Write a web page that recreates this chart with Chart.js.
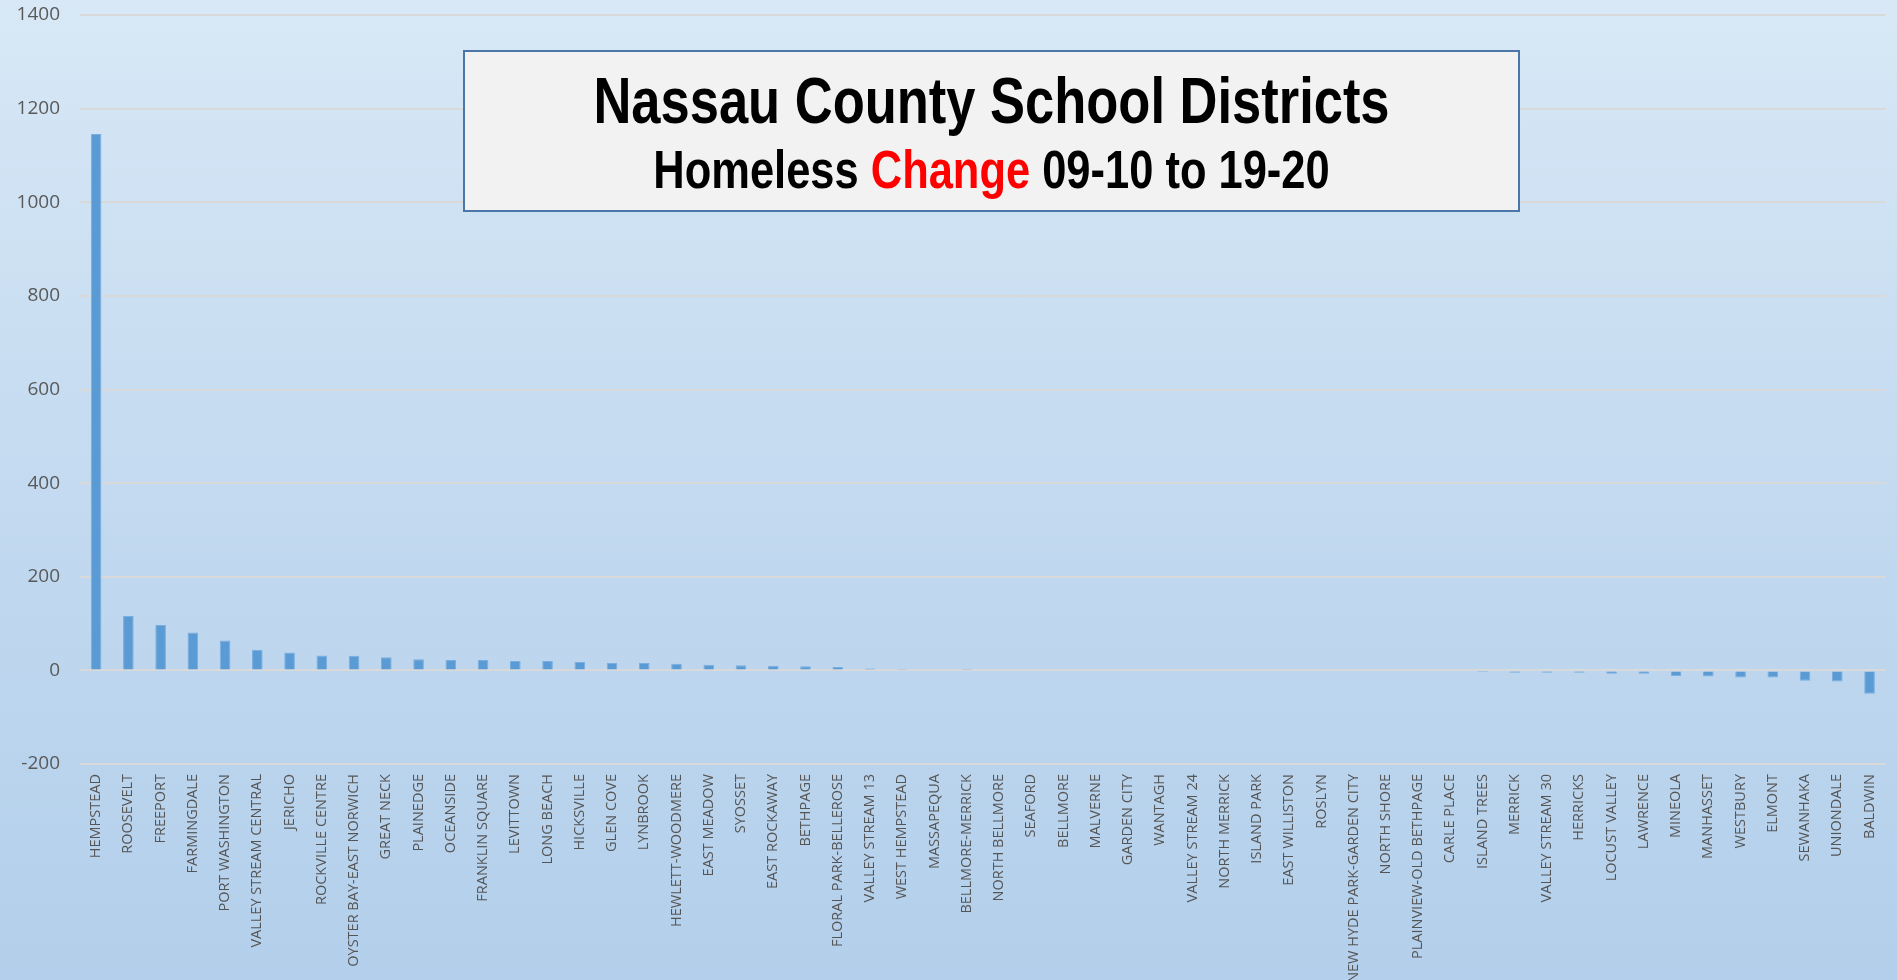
<!DOCTYPE html>
<html>
<head>
<meta charset="utf-8">
<script src="https://cdn.jsdelivr.net/npm/chart.js@4.4.1/dist/chart.umd.min.js"></script>
<style>
  html, body { margin: 0; padding: 0; overflow: hidden; }
  body { width: 1897px; height: 980px; background: linear-gradient(to bottom, #d8e8f6 0%, #c3daf0 50%, #b3cfeb 100%); position: relative; }
  #wrap { position: absolute; left: 0; top: 0; width: 1897px; height: 980px; }
  #titlebox {
    position: absolute; left: 463px; top: 50px; width: 1053px; height: 158px;
    background: #f2f2f2; border: 2px solid #4a76a8;
    font-family: "Liberation Sans", Arial, sans-serif; font-weight: bold; color: #000;
  }
  #titlebox div { position: absolute; left: 0; right: 0; text-align: center; white-space: nowrap; transform: scaleX(0.82); transform-origin: 50% 50%; }
  #t1 { top: 17px; font-size: 64px; line-height: 64px; }
  #t2 { top: 91px; font-size: 53px; line-height: 53px; }
  #t2 span { color: #ff0000; }
</style>
</head>
<body>
<div id="wrap"><canvas id="c" width="1897" height="980"></canvas></div>
<div id="titlebox">
  <div id="t1">Nassau County School Districts</div>
  <div id="t2">Homeless <span>Change</span> 09-10 to 19-20</div>
</div>
<script>
const districts = [
  "HEMPSTEAD","ROOSEVELT","FREEPORT","FARMINGDALE","PORT WASHINGTON","VALLEY STREAM CENTRAL",
  "JERICHO","ROCKVILLE CENTRE","OYSTER BAY-EAST NORWICH","GREAT NECK","PLAINEDGE","OCEANSIDE",
  "FRANKLIN SQUARE","LEVITTOWN","LONG BEACH","HICKSVILLE","GLEN COVE","LYNBROOK","HEWLETT-WOODMERE",
  "EAST MEADOW","SYOSSET","EAST ROCKAWAY","BETHPAGE","FLORAL PARK-BELLEROSE","VALLEY STREAM 13",
  "WEST HEMPSTEAD","MASSAPEQUA","BELLMORE-MERRICK","NORTH BELLMORE","SEAFORD","BELLMORE","MALVERNE",
  "GARDEN CITY","WANTAGH","VALLEY STREAM 24","NORTH MERRICK","ISLAND PARK","EAST WILLISTON","ROSLYN",
  "NEW HYDE PARK-GARDEN CITY","NORTH SHORE","PLAINVIEW-OLD BETHPAGE","CARLE PLACE","ISLAND TREES",
  "MERRICK","VALLEY STREAM 30","HERRICKS","LOCUST VALLEY","LAWRENCE","MINEOLA","MANHASSET","WESTBURY",
  "ELMONT","SEWANHAKA","UNIONDALE","BALDWIN"
];
const homelessChange = [
  1146, 116, 97, 81, 64, 44,
  38, 32, 31, 28, 24, 22,
  22, 20, 20, 18, 16, 16, 14,
  12, 11, 10, 9, 7, 4,
  3, 2, 1, 0, 0, 0, 0,
  0, 0, 0, 0, 0, 0, 0,
  0, 0, 0, 0, -1,
  -5, -5, -5, -7, -7, -12, -13, -15,
  -15, -22, -24, -50
];
const yMin = -200, yMax = 1400, yStep = 200;

new Chart(document.getElementById('c'), {
  type: 'bar',
  data: {
    labels: districts,
    datasets: [{
      data: homelessChange,
      backgroundColor: '#5b9bd5',
      borderColor: '#79aedf',
      borderWidth: 1,
      categoryPercentage: 1.0,
      barPercentage: 0.33
    }]
  },
  options: {
    responsive: false,
    animation: false,
    devicePixelRatio: 1,
    layout: { padding: { top: 15, right: 6, left: 0, bottom: 0 } },
    plugins: { legend: { display: false }, tooltip: { enabled: false }, title: { display: false } },
    scales: {
      x: {
        grid: { display: false, drawTicks: false },
        border: { display: false },
        ticks: {
          autoSkip: false, minRotation: 90, maxRotation: 90, padding: 10,
          color: '#555555', font: { family: '"Open Sans", sans-serif', size: 14.5 }
        },
        afterFit: (s) => { s.height = 216; }
      },
      y: {
        min: yMin, max: yMax,
        grid: { color: '#d9d9d9', lineWidth: 2, drawTicks: false },
        border: { display: false },
        ticks: {
          stepSize: yStep, padding: 20,
          color: '#595959', font: { family: '"Open Sans", sans-serif', size: 19 },
          callback: (v) => String(v)
        },
        afterFit: (s) => { s.width = 80; s.paddingTop = 0; s.paddingBottom = 0; }
      }
    }
  }
});
</script>
</body>
</html>
